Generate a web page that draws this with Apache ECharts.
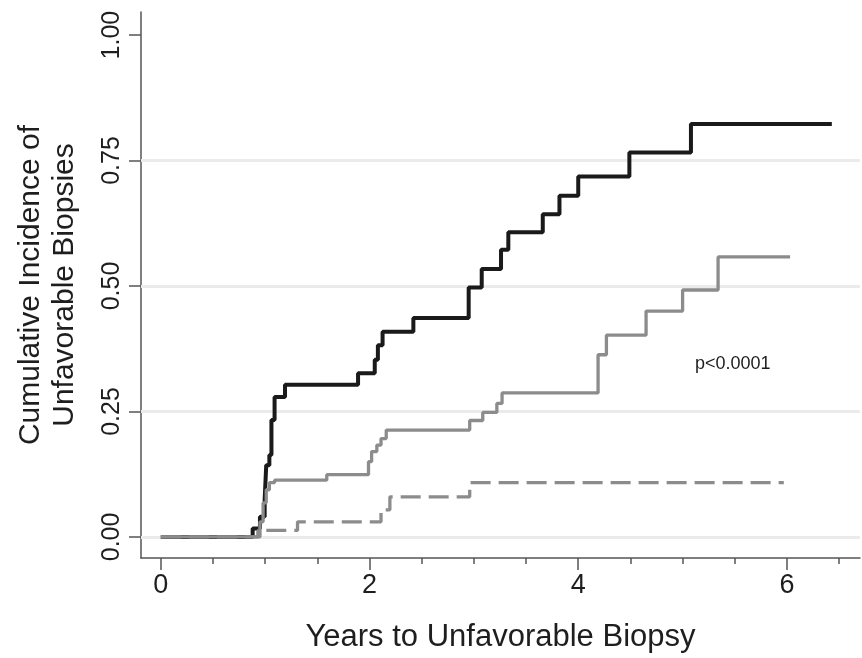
<!DOCTYPE html>
<html>
<head>
<meta charset="utf-8">
<script src="https://cdn.jsdelivr.net/npm/echarts@6/dist/echarts.min.js"></script>
<style>
html,body{margin:0;padding:0;background:#fff;}
#chart{width:862px;height:658px;}
</style>
</head>
<body>
<div id="chart"></div>
<script>
// Black solid curve (highest incidence)
const blackTimes = [0, 0.88, 0.95, 0.995, 1.01, 1.04, 1.06, 1.09, 1.19, 1.89, 2.05, 2.08, 2.125, 2.42, 2.95, 3.075, 3.26, 3.33, 3.66, 3.82, 4.0, 4.49, 5.08, 6.43];
const blackValues = [0, 0.017, 0.04, 0.074, 0.143, 0.163, 0.233, 0.279, 0.303, 0.326, 0.353, 0.382, 0.409, 0.436, 0.497, 0.534, 0.572, 0.607, 0.643, 0.68, 0.718, 0.766, 0.823, 0.823];
// Gray solid curve (intermediate)
const graySolidTimes = [0, 0.93, 0.95, 0.98, 1.01, 1.04, 1.09, 1.59, 1.99, 2.02, 2.07, 2.11, 2.16, 2.96, 3.085, 3.22, 3.27, 4.19, 4.27, 4.65, 5.0, 5.34, 6.03];
const graySolidValues = [0, 0, 0.03, 0.068, 0.094, 0.108, 0.113, 0.124, 0.15, 0.17, 0.183, 0.196, 0.213, 0.232, 0.248, 0.266, 0.287, 0.363, 0.402, 0.45, 0.492, 0.558, 0.558];
// Gray dashed curve (lowest)
const grayDashTimes = [0, 0.93, 1.31, 2.11, 2.195, 2.96, 5.97];
const grayDashValues = [0, 0.013, 0.03, 0.054, 0.08, 0.108, 0.108];

const yTicks = [0, 0.25, 0.5, 0.75, 1];
const xMajorTicks = [0, 2, 4, 6];
const xMinorTicks = [0.5, 1, 1.5, 2.5, 3, 3.5, 4.5, 5, 5.5, 6.5];
const gridValues = [0, 0.25, 0.5, 0.75];
const xTitle = 'Years to Unfavorable Biopsy';
const yTitle = 'Cumulative Incidence of\nUnfavorable Biopsies';
const pText = 'p<0.0001';

const zip = (xs, ys) => xs.map((x, i) => [x, ys[i]]);
const axisColor = '#555';
const textColor = '#1e1e1e';
const font = 'Liberation Sans, Arial, sans-serif';

const chart = echarts.init(document.getElementById('chart'), null, {renderer: 'canvas'});
chart.setOption({
  animation: false,
  backgroundColor: '#ffffff',
  grid: {left: 141, right: 2, top: 12, bottom: 100, containLabel: false},
  xAxis: [{
    type: 'value', min: -0.19, max: 6.70,
    axisLine: {show: true, onZero: false, lineStyle: {color: axisColor, width: 1.5}},
    axisTick: {show: true, customValues: xMajorTicks, length: 12, lineStyle: {color: axisColor, width: 1.5}},
    axisLabel: {show: true, customValues: xMajorTicks, margin: 14, fontSize: 27, color: textColor, fontFamily: font},
    splitLine: {show: false},
    name: xTitle, nameLocation: 'middle', nameGap: 64,
    nameTextStyle: {fontSize: 31, color: textColor, fontFamily: font}
  }, {
    type: 'value', min: -0.19, max: 6.70, position: 'bottom', offset: 0,
    axisLine: {show: false, onZero: false},
    axisTick: {show: true, customValues: xMinorTicks, length: 6, lineStyle: {color: axisColor, width: 1.5}},
    axisLabel: {show: false},
    splitLine: {show: false}
  }],
  yAxis: {
    type: 'value', min: -0.042, max: 1.046,
    axisLine: {show: true, onZero: false, lineStyle: {color: axisColor, width: 1.5}},
    axisTick: {show: true, customValues: yTicks, length: 12, lineStyle: {color: axisColor, width: 1.5}},
    axisLabel: {show: true, customValues: yTicks, rotate: 90, margin: 16, fontSize: 25, color: textColor, fontFamily: font,
      formatter: v => v.toFixed(2)},
    splitLine: {show: false},
    name: yTitle, nameLocation: 'middle', nameRotate: 90, nameGap: 59,
    nameTextStyle: {fontSize: 30, lineHeight: 34, color: textColor, fontFamily: font, align: 'center'}
  },
  series: [{
    type: 'line', name: 'grid', data: [], silent: true, z: 1,
    markLine: {symbol: 'none', silent: true, z: 1, label: {show: false},
      lineStyle: {color: '#ebebeb', width: 3, type: 'solid'},
      data: gridValues.map(v => ({yAxis: v}))}
  }, {
    type: 'line', name: 'high', step: 'end', showSymbol: false, z: 10,
    data: zip(blackTimes, blackValues),
    lineStyle: {color: '#1a1a1a', width: 4}
  }, {
    type: 'line', name: 'mid', step: 'end', showSymbol: false, z: 11,
    data: zip(graySolidTimes, graySolidValues),
    lineStyle: {color: '#8c8c8c', width: 3.3}
  }, {
    type: 'line', name: 'low', step: 'end', showSymbol: false, z: 11,
    data: zip(grayDashTimes, grayDashValues),
    lineStyle: {color: '#8c8c8c', width: 3.3, type: [20, 8]}
  }],
  graphic: [{
    type: 'text', left: 695, top: 355,
    style: {text: pText, fontSize: 18, fill: textColor, fontFamily: font}
  }]
});
</script>
</body>
</html>
